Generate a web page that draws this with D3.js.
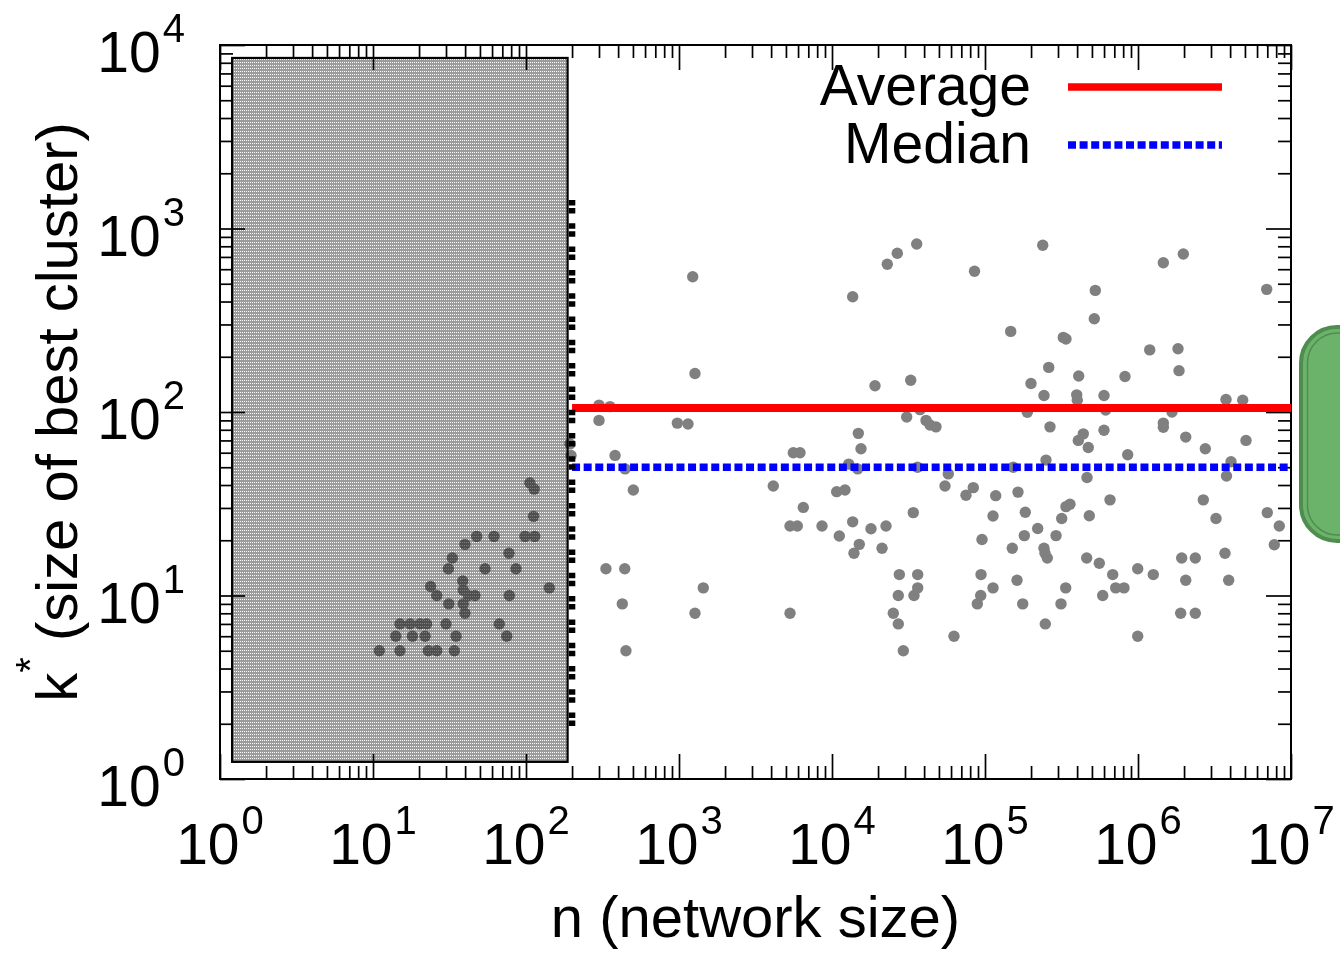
<!DOCTYPE html>
<html><head><meta charset="utf-8">
<script src="https://cdn.jsdelivr.net/npm/d3@7"></script>
<style>html,body{margin:0;padding:0;background:#fff;overflow:hidden}
text{font-family:"Liberation Sans",Arial,Helvetica,sans-serif;fill:#000}</style>
</head><body>
<svg id="chart" width="1340" height="954"></svg>
<script>
// ---------- data ----------
const xTickExponents = [0, 1, 2, 3, 4, 5, 6, 7];
const yTickExponents = [0, 1, 2, 3, 4];
const seriesNames = ["Average", "Median"];
const averageK = 105;
const medianK = 50;
const summaryNRange = [200, 1e7];
const cutoffN = 200;
const cutoffKRange = [1.9, 1430];
const shadedNRange = [1.2, 187];
const shadedKRange = [1.24, 8500];

// networks inside the shaded (small n) region: [n, k]
const smallNetworks = [
  [106,41],[113,38],[112,27],[98.5,21],[114,21],[47.6,21],[61.8,21],[39.9,19],[77.4,17],
  [33,16],[31.1,14],[54,14],[86,14],[142,11],[23.8,11.2],[26.1,10],[38.6,12],[38.9,10.7],
  [46.4,10],[42,10],[77.8,10],[31.3,9],[38.9,9],[39.9,8],[15,7],[17.5,7],[20.3,7],[22.4,7],
  [30,7],[66.9,7],[14.1,6],[18.1,6],[21.9,6],[34.9,6],[74.8,6],[11,5],[15,5],[23,5],[26.1,5],[34,5]
];
// larger networks: [n, k]
const largeNetworks = [
  [1229,546],[1272,162],[13650,425],[22980,638],[26720,733],[35780,823],[85400,585],
  [19100,139],[32690,149],[300,109],[354,107],[300,90],[975,87],[1145,86],[382,58],[444,49],
  [194,67],[197,58],[5586,60],[6178,60],[14860,76.5],[15470,63],[12860,52],[14720,49],
  [30780,94],[37610,103],[41170,90],[43710,85],[47830,83],[36220,50],[57560,46],[4133,39.5],[503,37.6],
  [238400,810],[526000,460],[518100,322],[1464000,651],[1978000,726],[6937000,466],[147200,275],
  [324900,255],[338300,250],[260900,175],[409700,157],[199800,143],[243000,123],[397500,124],
  [401100,116],[599500,123],[822200,156],[1193000,218],[1826000,221],[1854000,168],[189000,99.6],
  [615000,102.5],[1668000,100],[3760000,117],[4834000,116],[266000,83],[439000,76],[407300,70],
  [473300,64],[599500,79.5],[1464000,87],[1464000,82.5],[2051000,73],[2754000,63],[5080000,70],
  [856400,58.5],[250500,54.7],[153100,50],[464200,44],[4054000,53.6],[3788000,44.8],
  [10730,36.8],[12160,37.6],[6493,30.2],[5316,23.9],[5932,23.9],[8603,23.9],[11160,21.1],
  [13650,25.2],[15080,19],[13920,17],[17980,23.1],[22540,23.9],[21230,18.1],[33990,28.3],
  [54770,39.5],[75120,35.2],[83850,38.7],[333,14],[442,14],[426,9],[450,5],[1441,11],[1272,8],
  [5316,8],[27540,13],[36320,13],[36320,11],[34350,10],[27120,10],[25160,8],[27120,7],[29250,5],[62720,6],
  [117500,35],[164300,36.6],[112800,27.1],[183400,28.4],[95600,20.2],[150800,18.1],[180700,21.2],
  [221000,23.2],[243000,18.1],[246700,17],[255400,16],[291200,21.2],[317200,26.3],[338300,30.5],
  [359300,31.4],[480500,27.2],[656200,33.2],[462000,16],[558600,15],[683300,13],[714900,11],
  [810000,11],[587900,10],[995500,14],[1259000,13],[995500,6],[94200,13],[93740,10],[89080,9],
  [112800,11],[161900,12.1],[176400,9],[247800,7],[336900,11],[313800,9],[2672000,33.2],
  [3235000,26.3],[1930000,16],[2369000,16],[2051000,12.1],[3703000,17],[3915000,12.1],
  [1901000,8],[2369000,8],[7000000,28.3],[8385000,23.9],[7778000,18.9]
];

// ---------- layout ----------
const svg = d3.select("#chart");
const plotL = 220, plotR = 1291, plotT = 45, plotB = 779;
const x = d3.scaleLog().domain([1, 1e7]).range([plotL, plotR]);
const y = d3.scaleLog().domain([1, 1e4]).range([plotB, plotT]);

const majorX = xTickExponents.map(e => Math.pow(10, e));
const majorY = yTickExponents.map(e => Math.pow(10, e));
const minorX = [], minorY = [];
for (let e = 0; e < 7; e++) for (let m = 2; m <= 9; m++) minorX.push(m * Math.pow(10, e));
for (let e = 0; e < 4; e++) for (let m = 2; m <= 9; m++) minorY.push(m * Math.pow(10, e));

function styleAxis(g) {
  g.select(".domain").remove();
  g.selectAll(".tick line").attr("stroke", "#000").attr("stroke-width", 1.7);
  g.selectAll(".tick text").remove();
}
const MAJ = 25, MIN = 13;
svg.append("g").attr("transform", `translate(0,${plotB})`).call(d3.axisBottom(x).tickValues(majorX).tickSize(-MAJ)).call(styleAxis);
svg.append("g").attr("transform", `translate(0,${plotB})`).call(d3.axisBottom(x).tickValues(minorX).tickSize(-MIN)).call(styleAxis);
svg.append("g").attr("transform", `translate(0,${plotT})`).call(d3.axisTop(x).tickValues(majorX).tickSize(-MAJ)).call(styleAxis);
svg.append("g").attr("transform", `translate(0,${plotT})`).call(d3.axisTop(x).tickValues(minorX).tickSize(-MIN)).call(styleAxis);
svg.append("g").attr("transform", `translate(${plotL},0)`).call(d3.axisLeft(y).tickValues(majorY).tickSize(-MAJ)).call(styleAxis);
svg.append("g").attr("transform", `translate(${plotL},0)`).call(d3.axisLeft(y).tickValues(minorY).tickSize(-MIN)).call(styleAxis);
svg.append("g").attr("transform", `translate(${plotR},0)`).call(d3.axisRight(y).tickValues(majorY).tickSize(-MAJ)).call(styleAxis);
svg.append("g").attr("transform", `translate(${plotR},0)`).call(d3.axisRight(y).tickValues(minorY).tickSize(-MIN)).call(styleAxis);

svg.append("rect").attr("x", plotL).attr("y", plotT).attr("width", plotR - plotL).attr("height", plotB - plotT)
  .attr("fill", "none").attr("stroke", "#000").attr("stroke-width", 2);

// points
const allPoints = smallNetworks.concat(largeNetworks);
svg.append("g").selectAll("circle").data(allPoints).join("circle")
  .attr("cx", d => x(d[0])).attr("cy", d => y(d[1])).attr("r", 5.7).attr("fill", "#808080");

// shaded overlay
const defs = svg.append("defs");
const pat = defs.append("pattern").attr("id", "shade").attr("patternUnits", "userSpaceOnUse")
  .attr("width", 2).attr("height", 3);
pat.append("rect").attr("width", 2).attr("height", 3).attr("fill", "#9c9c9c");
pat.append("rect").attr("x", 0).attr("y", 2).attr("width", 1).attr("height", 1).attr("fill", "#ffffff");
svg.append("rect")
  .attr("x", x(shadedNRange[0])).attr("y", y(shadedKRange[1]))
  .attr("width", x(shadedNRange[1]) - x(shadedNRange[0]))
  .attr("height", y(shadedKRange[0]) - y(shadedKRange[1]))
  .attr("fill", "url(#shade)").attr("stroke", "#000").attr("stroke-width", 2.2)
  .style("mix-blend-mode", "multiply");

// summary lines
svg.append("line").attr("x1", x(summaryNRange[0])).attr("x2", x(summaryNRange[1]))
  .attr("y1", y(averageK)).attr("y2", y(averageK)).attr("stroke", "#ff0000").attr("stroke-width", 8);
svg.append("line").attr("x1", x(summaryNRange[0])).attr("x2", x(summaryNRange[1]))
  .attr("y1", y(medianK)).attr("y2", y(medianK)).attr("stroke", "#0000ff").attr("stroke-width", 7.5)
  .attr("stroke-dasharray", "8,3.6");
svg.append("line").attr("x1", x(cutoffN)).attr("x2", x(cutoffN))
  .attr("y1", y(cutoffKRange[1])).attr("y2", y(cutoffKRange[0]))
  .attr("stroke", "#000").attr("stroke-width", 6.5).attr("stroke-dasharray", "5.5,2.5,5.5,9.8");

// legend
const legendColors = ["#ff0000", "#0000ff"];
const legendDash = [null, "8,3.6"];
seriesNames.forEach((name, i) => {
  const by = 105 + i * 58;
  svg.append("text").attr("x", 1031).attr("y", by).attr("text-anchor", "end")
    .attr("font-size", 57).text(name);
  svg.append("line").attr("x1", 1068).attr("x2", 1222).attr("y1", by - 18).attr("y2", by - 18)
    .attr("stroke", legendColors[i]).attr("stroke-width", 7.5)
    .attr("stroke-dasharray", legendDash[i]);
});

// tick labels
function powLabel(sel, e) {
  sel.append("tspan").text("10");
  sel.append("tspan").attr("font-size", 40).attr("dy", -30).attr("dx", 2).text(String(e));
}
xTickExponents.forEach(e => {
  const t = svg.append("text").attr("x", x(Math.pow(10, e))).attr("y", 864)
    .attr("text-anchor", "middle").attr("font-size", 57);
  powLabel(t, e);
});
yTickExponents.forEach(e => {
  const t = svg.append("text").attr("x", 185).attr("y", y(Math.pow(10, e)) + 27)
    .attr("text-anchor", "end").attr("font-size", 57);
  powLabel(t, e);
});

// axis titles
svg.append("text").attr("x", (plotL + plotR) / 2).attr("y", 937).attr("text-anchor", "middle")
  .attr("font-size", 58).text("n (network size)");
const yt = svg.append("text").attr("transform", `translate(77,${(plotT + plotB) / 2}) rotate(-90)`)
  .attr("text-anchor", "middle").attr("font-size", 58);
yt.append("tspan").text("k");
yt.append("tspan").attr("font-size", 40).attr("dy", -33).text("*");
yt.append("tspan").attr("dy", 33).text(" (size of best cluster)");

// green side panel (partially off-canvas)
const gp = svg.append("g");
gp.append("rect").attr("x", 1301).attr("y", 327).attr("width", 90).attr("height", 214).attr("rx", 36)
  .attr("fill", "#6bb36b").attr("stroke", "#4f8d4f").attr("stroke-width", 4);
gp.append("rect").attr("x", 1307.5).attr("y", 333).attr("width", 80).attr("height", 202).attr("rx", 30)
  .attr("fill", "none").attr("stroke", "#4f8d4f").attr("stroke-width", 1.5);
</script>
</body></html>
